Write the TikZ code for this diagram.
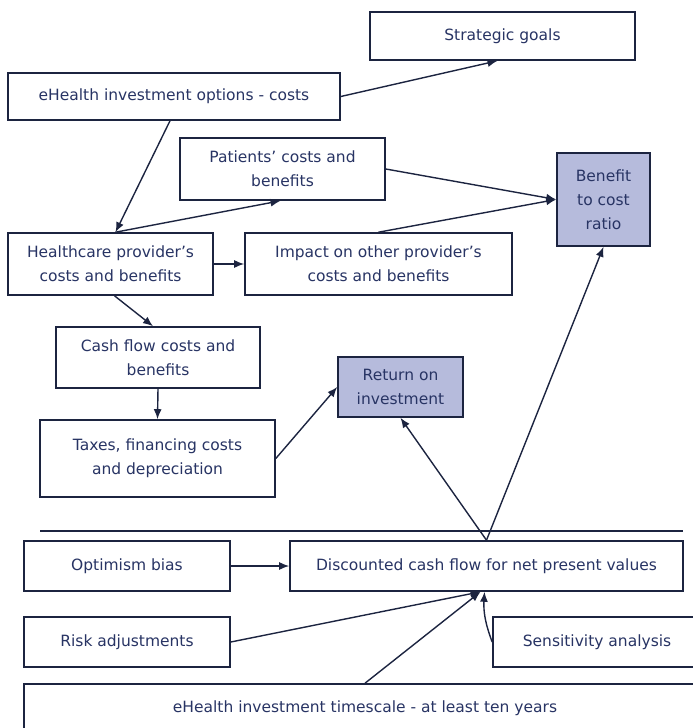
\documentclass[tikz,border=0pt]{standalone}
\usepackage{fontspec}
\setmainfont{DejaVu Sans}
\usetikzlibrary{arrows.meta}
\definecolor{bordc}{RGB}{28,36,64}
\definecolor{txtc}{RGB}{40,52,100}
\definecolor{fillc}{RGB}{182,187,220}
\begin{document}
\begin{tikzpicture}[x=1pt,y=-1pt,
  box/.style={draw=bordc, line width=1.6pt, fill=white, text=txtc, align=center,
    inner sep=0pt, font=\fontsize{15.5}{24}\selectfont},
  hibox/.style={box, fill=fillc},
  arr/.style={draw=bordc, line width=1.4pt, -{Latex[length=10pt,width=8pt]}}]
\useasboundingbox (0,0) rectangle (693,728);
\clip (0,0) rectangle (693,728);
\node[box, minimum width=265pt, minimum height=48pt] (strat) at (502.5,36) {Strategic goals};
\node[box, minimum width=332pt, minimum height=47pt] (opts) at (174,96.5) {eHealth investment options - costs};
\node[box, minimum width=205pt, minimum height=62pt] (pat) at (282.5,169) {Patients' costs and\\benefits};
\node[hibox, minimum width=93pt, minimum height=93pt] (bcr) at (603.5,199.5) {Benefit\\to cost\\ratio};
\node[box, minimum width=205pt, minimum height=62pt] (hc) at (110.5,264) {Healthcare provider's\\costs and benefits};
\node[box, minimum width=267pt, minimum height=62pt] (imp) at (378.5,264) {Impact on other provider's\\costs and benefits};
\node[box, minimum width=204pt, minimum height=61pt] (cash) at (158,357.5) {Cash flow costs and\\benefits};
\node[hibox, minimum width=125pt, minimum height=60pt] (roi) at (400.5,387) {Return on\\investment};
\node[box, minimum width=235pt, minimum height=77pt] (tax) at (157.5,458.5) {Taxes, financing costs\\and depreciation};
\coordinate (sepl) at (40,531);
\coordinate (sepr) at (683,531);
\draw[bordc, line width=1.5pt] (sepl) -- (sepr);
\node[box, minimum width=206pt, minimum height=50pt] (opt) at (127,566) {Optimism bias};
\node[box, minimum width=393pt, minimum height=50pt] (dcf) at (486.5,566) {Discounted cash flow for net present values};
\node[box, minimum width=206pt, minimum height=50pt] (risk) at (127,642) {Risk adjustments};
\node[box, minimum width=208pt, minimum height=50pt] (sens) at (597,642) {Sensitivity analysis};
\node[box, minimum width=682pt, minimum height=48pt] (time) at (365,708) {eHealth investment timescale - at least ten years};
\coordinate (dcfin) at ([xshift=-6pt]dcf.south);
\draw[arr] (opts.east) -- ([xshift=-5pt]strat.south);
\draw[arr] ([xshift=-4pt]opts.south) -- ([xshift=5pt]hc.north);
\draw[arr] ([xshift=5pt]hc.north) -- ([xshift=-2pt]pat.south);
\draw[arr] (pat.east) -- (bcr.west);
\draw[arr] (imp.north) -- (bcr.west);
\draw[arr] (hc.east) -- (imp.west);
\draw[arr] ([xshift=4pt]hc.south) -- ([xshift=-5pt]cash.north);
\draw[arr] (cash.south) -- (tax.north);
\draw[arr] (tax.east) -- (roi.west);
\draw[arr] (dcf.north) -- (roi.south);
\draw[arr] (dcf.north) -- (bcr.south);
\draw[arr] (opt.east) -- (dcf.west);
\draw[arr] (risk.east) -- (dcfin);
\draw[arr] (time.north) -- (dcfin);
\draw[arr] (sens.west) to[bend left=12] ([xshift=-2pt]dcf.south);
\end{tikzpicture}
\end{document}
